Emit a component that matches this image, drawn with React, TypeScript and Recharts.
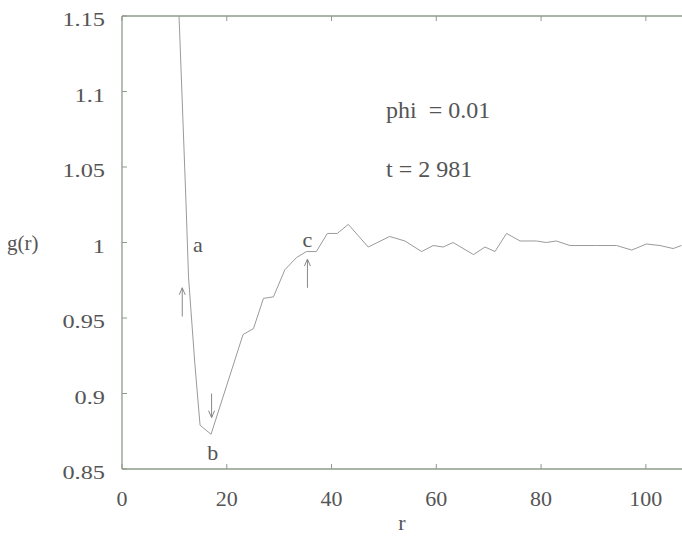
import React from 'react'
import {
  LineChart,
  Line,
  XAxis,
  YAxis,
  ReferenceLine,
  ReferenceDot
} from 'recharts'

// r values and g(r)
const rValues = [
  10.4, 11.0, 12.2, 12.7, 13.9, 14.9, 17.0, 23.1, 25.1, 27.0, 28.9, 31.1, 33.3,
  35.2, 37.1, 39.2, 41.1, 43.2, 47.0, 51.1, 54.0, 57.2, 59.4, 61.3, 63.2, 67.1,
  69.3, 71.2, 73.4, 76.0, 79.1, 81.0, 82.9, 85.5, 90.6, 94.4, 97.3, 100.1,
  102.7, 105.2, 106.8
]
const gValues = [
  1.19, 1.14, 1.028, 0.977, 0.92, 0.879, 0.873, 0.939, 0.943, 0.963, 0.964,
  0.982, 0.99, 0.994, 0.994, 1.006, 1.006, 1.012, 0.997, 1.004, 1.001, 0.994,
  0.998, 0.997, 1.0, 0.992, 0.997, 0.994, 1.006, 1.001, 1.001, 1.0, 1.001,
  0.998, 0.998, 0.998, 0.995, 0.999, 0.998, 0.996, 0.998
]

const xTicks = [0, 20, 40, 60, 80, 100]
const yTicks = [0.85, 0.9, 0.95, 1, 1.05, 1.1, 1.15]

// markers a, b, c: label position, and the little arrows next to them
const markLabels = [
  { text: 'a', r: 14.5, g: 0.999 },
  { text: 'b', r: 17.3, g: 0.861 },
  { text: 'c', r: 35.4, g: 1.002 }
]
const markArrows = [
  { r: 11.5, from: 0.951, to: 0.97 },
  { r: 17.1, from: 0.9, to: 0.884 },
  { r: 35.4, from: 0.97, to: 0.989 }
]

const data = rValues.map((r, i) => ({ r, g: gValues[i] }))

const W = 682
const H = 536
const TOP = 16
const LEFT = 122
const XAXIS_H = 67
const BOTTOM = H - XAXIS_H

const FONT = 'Liberation Serif, Times New Roman, serif'
const TEXT = '#555'
const AXIS = '#8e9c8a'
const CURVE = '#9a9a9a'

const textStyle = { fontFamily: FONT, whiteSpace: 'pre' } as const

function XTick({ x, payload }: any) {
  return (
    <g>
      <line x1={x} x2={x} y1={BOTTOM} y2={BOTTOM - 5} stroke={AXIS} />
      <line x1={x} x2={x} y1={TOP} y2={TOP + 5} stroke={AXIS} />
      <text x={x} y={BOTTOM + 37} textAnchor="middle" fontSize={22} fill={TEXT} style={textStyle}>
        {payload.value}
      </text>
    </g>
  )
}

// the scan stretches the y labels sideways
function YTick({ y, payload }: any) {
  return (
    <g>
      <line x1={LEFT} x2={LEFT + 5} y1={y} y2={y} stroke={AXIS} />
      <text
        transform={`translate(${LEFT - 17},${y + 10}) scale(1.28,1)`}
        textAnchor="end"
        fontSize={19}
        fill={TEXT}
        style={textStyle}
      >
        {payload.value}
      </text>
    </g>
  )
}

function arrowShape(props: any) {
  const { x1, y1, x2, y2 } = props
  const dir = y2 < y1 ? 1 : -1
  return (
    <g>
      <line x1={x1} y1={y1} x2={x2} y2={y2} stroke="#888" strokeWidth={1} />
      <path
        d={`M${x2 - 3},${y2 + dir * 7} L${x2},${y2} L${x2 + 3},${y2 + dir * 7}`}
        fill="none"
        stroke="#888"
        strokeWidth={1}
      />
    </g>
  )
}

function textShape(text: string, anchor: string, size: number) {
  return (props: any) => (
    <text
      x={props.cx}
      y={props.cy}
      dy={anchor === 'middle' ? '0.35em' : 0}
      textAnchor={anchor}
      fontSize={size}
      fill={TEXT}
      style={textStyle}
    >
      {text}
    </text>
  )
}

export default function App() {
  return (
    <div
      style={{
        position: 'absolute',
        left: 0,
        top: 0,
        width: W,
        height: H,
        background: '#fff',
        fontFamily: FONT
      }}
    >
      <LineChart width={W} height={H} data={data} margin={{ top: TOP, right: 0, left: 0, bottom: 0 }}>
        <XAxis
          dataKey="r"
          type="number"
          domain={[0, 106.9]}
          allowDataOverflow
          ticks={xTicks}
          height={XAXIS_H}
          tickLine={false}
          axisLine={{ stroke: AXIS, strokeWidth: 1.3 }}
          tick={<XTick />}
          label={{ value: 'r', position: 'insideBottom', offset: 6, fontSize: 22, fill: TEXT, style: textStyle }}
        />
        <YAxis
          type="number"
          domain={[0.85, 1.15]}
          allowDataOverflow
          ticks={yTicks}
          width={LEFT}
          tickLine={false}
          axisLine={{ stroke: AXIS, strokeWidth: 1.3 }}
          tick={<YTick />}
          label={{ value: 'g(r)', position: 'insideLeft', offset: 7, fontSize: 21, fill: TEXT, style: textStyle }}
        />
        <ReferenceLine y={1.15} stroke={AXIS} strokeWidth={1.3} />
        <Line
          type="linear"
          dataKey="g"
          stroke={CURVE}
          strokeWidth={1}
          dot={false}
          isAnimationActive={false}
        />
        {markArrows.map((a, i) => (
          <ReferenceLine
            key={`arrow-${i}`}
            segment={[
              { x: a.r, y: a.from },
              { x: a.r, y: a.to }
            ]}
            shape={arrowShape}
          />
        ))}
        {markLabels.map((m) => (
          <ReferenceDot key={m.text} x={m.r} y={m.g} r={0} shape={textShape(m.text, 'middle', 22)} />
        ))}
        <ReferenceDot x={50.4} y={1.0825} r={0} shape={textShape('phi  = 0.01', 'start', 24)} />
        <ReferenceDot x={50.4} y={1.0434} r={0} shape={textShape('t = 2 981', 'start', 24)} />
      </LineChart>
    </div>
  )
}
